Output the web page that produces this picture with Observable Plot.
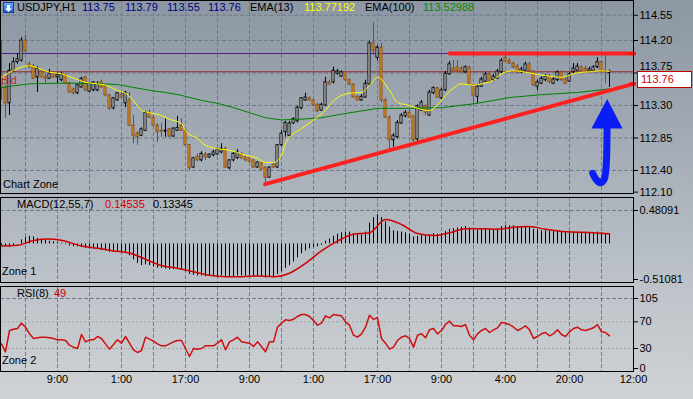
<!DOCTYPE html>
<html><head><meta charset="utf-8">
<script src="https://cdn.jsdelivr.net/npm/d3@7"></script>
<script src="https://cdn.jsdelivr.net/npm/@observablehq/plot@0.6"></script>
<style>
body{margin:0;}
#wrap{position:relative;width:693px;height:399px;overflow:hidden;background:linear-gradient(to bottom,#8c97a3 0%,#a6aeb7 40%,#bcc2c8 70%,#cfd2d6 100%);font-family:"Liberation Sans",Arial,sans-serif;font-size:11px;}
.t{position:absolute;white-space:nowrap;line-height:11px;}
#wrap svg{position:absolute;left:0;overflow:visible;}
</style></head><body><div id="wrap"></div>
<script>
// ---- price data (H1 candles, bar index 0..152) ----
const O = [
113.72,113.54,113.33,113.78,113.90,113.92,114.20,113.87,113.84,113.69,
113.77,113.70,113.67,113.73,113.69,113.65,113.72,113.60,113.52,113.47,
113.55,113.69,113.49,113.51,113.51,113.62,113.56,113.44,113.26,113.37,
113.45,113.33,113.37,113.02,112.91,112.88,112.95,113.20,113.13,113.02,
112.95,112.94,112.97,112.87,112.95,113.02,112.95,112.75,112.44,112.59,
112.54,112.62,112.58,112.61,112.62,112.65,112.70,112.43,112.54,112.57,
112.63,112.58,112.57,112.54,112.44,112.50,112.44,112.30,112.48,112.44,
112.75,112.93,112.88,113.05,113.08,113.26,113.37,113.40,113.37,113.31,
113.23,113.30,113.62,113.62,113.74,113.70,113.76,113.65,113.59,113.42,
113.37,113.41,113.59,114.16,113.96,114.10,113.37,113.13,112.82,112.86,
113.05,113.15,113.20,113.15,112.83,113.23,113.29,113.16,113.47,113.54,
113.40,113.51,113.73,113.81,113.83,113.81,113.76,113.83,113.58,113.42,
113.56,113.63,113.73,113.65,113.67,113.76,113.96,113.92,113.88,113.84,
113.76,113.78,113.87,113.77,113.56,113.60,113.65,113.70,113.60,113.65,
113.76,113.66,113.63,113.76,113.78,113.83,113.81,113.77,113.77,113.83,
113.90,113.78,113.75];
const H = [
114.20,113.58,113.88,113.96,114.02,114.24,114.27,113.90,113.87,113.84,
113.78,113.73,113.80,113.74,113.76,113.76,113.74,113.62,113.54,113.59,
113.69,113.70,113.62,113.63,113.63,113.65,113.58,113.45,113.41,113.48,
113.48,113.49,113.48,113.16,112.94,112.99,113.22,113.24,113.16,113.05,
113.05,113.11,112.98,112.99,113.15,113.12,112.97,112.76,112.57,112.63,
112.66,112.65,112.63,112.68,112.70,112.77,112.72,112.55,112.65,112.69,
112.65,112.59,112.58,112.55,112.52,112.51,112.45,112.45,112.50,112.76,
112.95,113.08,113.08,113.13,113.29,113.41,113.47,113.42,113.38,113.33,
113.33,113.69,113.65,113.83,113.80,113.78,113.77,113.67,113.60,113.44,
113.45,113.65,114.19,114.45,114.13,114.16,113.40,113.16,112.91,113.09,
113.19,113.23,113.23,113.16,113.31,113.37,113.31,113.51,113.56,113.55,
113.54,113.77,113.91,113.92,113.92,113.84,113.85,113.84,113.59,113.59,
113.69,113.76,113.76,113.73,113.80,113.95,114.00,113.95,113.90,113.87,
113.83,113.90,113.90,113.78,113.65,113.70,113.73,113.73,113.69,113.78,
113.78,113.69,113.76,113.88,113.88,113.85,113.85,113.83,113.85,113.96,
113.92,113.99,113.79];
const L = [
113.37,113.12,113.16,113.76,113.87,113.90,114.03,113.81,113.66,113.48,
113.68,113.60,113.66,113.67,113.60,113.63,113.59,113.47,113.44,113.45,
113.54,113.49,113.48,113.49,113.49,113.54,113.42,113.23,113.24,113.36,
113.40,113.27,113.01,112.77,112.75,112.87,112.94,113.12,113.01,112.79,
112.86,112.86,112.86,112.86,112.94,112.94,112.73,112.40,112.43,112.52,
112.52,112.54,112.57,112.59,112.61,112.63,112.43,112.41,112.52,112.55,
112.55,112.52,112.51,112.43,112.43,112.40,112.19,112.29,112.43,112.43,
112.73,112.86,112.87,113.04,113.06,113.24,113.36,113.36,113.29,113.20,
113.22,113.29,113.58,113.60,113.72,113.69,113.63,113.58,113.40,113.36,
113.36,113.40,113.58,113.99,113.92,113.34,113.12,112.68,112.72,112.84,
113.04,113.13,113.12,112.79,112.80,113.22,113.16,113.15,113.45,113.40,
113.38,113.49,113.72,113.76,113.77,113.74,113.74,113.58,113.34,113.33,
113.55,113.62,113.62,113.63,113.66,113.74,113.90,113.87,113.81,113.74,
113.74,113.77,113.77,113.56,113.51,113.59,113.63,113.60,113.59,113.63,
113.63,113.59,113.62,113.74,113.77,113.77,113.76,113.76,113.76,113.81,
113.77,113.60,113.55];
const C = [
113.54,113.33,113.78,113.90,113.94,114.20,114.05,113.83,113.67,113.81,
113.69,113.67,113.74,113.69,113.72,113.73,113.60,113.48,113.47,113.58,
113.67,113.51,113.60,113.62,113.60,113.55,113.44,113.26,113.40,113.47,
113.41,113.48,113.02,112.88,112.86,112.97,113.20,113.13,113.02,112.93,
112.94,112.95,112.87,112.98,112.99,112.95,112.75,112.43,112.57,112.54,
112.63,112.58,112.62,112.65,112.69,112.70,112.44,112.54,112.63,112.65,
112.57,112.54,112.52,112.44,112.51,112.41,112.30,112.44,112.44,112.75,
112.91,113.06,113.05,113.11,113.27,113.40,113.41,113.37,113.30,113.22,
113.31,113.62,113.59,113.78,113.77,113.76,113.65,113.59,113.41,113.37,
113.42,113.60,114.16,114.06,114.10,113.37,113.13,112.82,112.88,113.06,
113.16,113.20,113.13,112.82,113.29,113.34,113.20,113.48,113.54,113.41,
113.51,113.74,113.87,113.77,113.78,113.76,113.83,113.59,113.44,113.56,
113.66,113.73,113.63,113.70,113.77,113.92,113.91,113.88,113.83,113.76,
113.80,113.87,113.78,113.58,113.62,113.67,113.70,113.62,113.66,113.76,
113.65,113.60,113.73,113.81,113.84,113.78,113.77,113.80,113.83,113.90,
113.78,113.77,113.76];

// EMA lines (bar index, value)
const ema13Idx = [0,7,8,12,15,16,19,21,24,26,29,31,34,35,37,40,42,45,46,49,51,54,56,59,61,64,66,68,70,71,73,75,77,80,84,87,90,92,94,97,99,102,104,107,109,111,113,115,118,120,123,125,128,130,133,135,138,140,143,145,148,150,152];
const ema13Val = [113.69,113.85,113.84,113.76,113.74,113.72,113.66,113.62,113.60,113.58,113.51,113.47,113.30,113.23,113.20,113.16,113.11,113.05,112.95,112.84,112.75,112.70,112.69,112.65,112.61,112.57,112.51,112.51,112.61,112.77,112.91,112.98,113.06,113.18,113.41,113.47,113.48,113.58,113.69,113.51,113.34,113.30,113.26,113.23,113.31,113.44,113.54,113.60,113.58,113.60,113.65,113.74,113.78,113.77,113.74,113.72,113.70,113.69,113.74,113.76,113.77,113.78,113.77192];
const ema100Idx = [0,7,16,25,29,33,37,41,45,50,54,58,62,66,70,75,80,85,94,102,110,119,127,135,144,152];
const ema100Val = [113.55,113.60,113.61,113.60,113.59,113.55,113.51,113.48,113.44,113.37,113.33,113.27,113.20,113.13,113.10,113.11,113.13,113.18,113.26,113.26,113.27,113.33,113.41,113.45,113.48,113.52988];

// MACD(12,55,7) histogram per bar, and signal line
const macd = [
-0.03,-0.04,-0.05,-0.03,0.00,0.06,0.09,0.11,0.10,0.08,
0.06,0.05,0.04,0.03,0.02,0.01,-0.01,-0.03,-0.04,-0.04,
-0.05,-0.06,-0.07,-0.07,-0.08,-0.09,-0.10,-0.12,-0.12,-0.12,
-0.13,-0.13,-0.17,-0.23,-0.28,-0.31,-0.30,-0.31,-0.33,-0.35,
-0.35,-0.36,-0.37,-0.37,-0.37,-0.38,-0.40,-0.44,-0.45,-0.46,
-0.46,-0.47,-0.47,-0.47,-0.47,-0.46,-0.48,-0.48,-0.47,-0.46,
-0.46,-0.46,-0.46,-0.47,-0.47,-0.47,-0.49,-0.48,-0.47,-0.44,
-0.40,-0.35,-0.31,-0.26,-0.20,-0.14,-0.10,-0.07,-0.05,-0.04,
-0.02,0.04,0.07,0.11,0.14,0.16,0.17,0.17,0.15,0.13,
0.13,0.17,0.30,0.38,0.42,0.38,0.32,0.24,0.19,0.18,
0.17,0.16,0.14,0.10,0.11,0.12,0.11,0.13,0.15,0.14,
0.15,0.18,0.21,0.22,0.23,0.24,0.25,0.23,0.20,0.20,
0.21,0.22,0.21,0.21,0.22,0.25,0.26,0.26,0.26,0.25,
0.25,0.25,0.24,0.21,0.20,0.19,0.19,0.18,0.18,0.18,
0.17,0.16,0.16,0.17,0.17,0.16,0.16,0.16,0.16,0.17,
0.16,0.15,0.13345];
const sigIdx = [0,4,8,12,16,20,24,28,32,36,40,44,48,52,56,60,64,68,72,76,80,84,88,92,96,100,104,108,112,116,120,124,128,132,136,140,144,148,152];
const sigVal = [-0.03,-0.02,0.05,0.07,0.04,-0.03,-0.06,-0.10,-0.13,-0.22,-0.31,-0.35,-0.40,-0.45,-0.47,-0.47,-0.46,-0.47,-0.42,-0.28,-0.10,0.04,0.14,0.16,0.35,0.28,0.15,0.12,0.16,0.22,0.22,0.21,0.24,0.25,0.21,0.18,0.17,0.16,0.14535];

// RSI(8) per bar
const rsi = [
37,25,57,59,60,68,62,52,45,46,
47,47,46,45,43,43,42,35,32,30,
51,40,43,43,48,45,37,29,36,43,
38,48,38,28,24,27,47,44,41,37,
34,34,37,40,42,42,30,18,30,29,
30,34,34,34,38,43,28,40,43,47,
40,39,38,33,40,33,25,40,40,62,
68,73,72,74,78,81,81,78,72,65,
68,79,76,81,80,79,70,65,50,47,
52,62,80,74,76,45,38,29,32,42,
47,49,45,32,50,52,46,58,60,52,
57,66,71,64,64,63,66,50,43,52,
57,60,54,58,61,69,68,66,62,57,
60,64,58,45,48,52,54,49,52,58,
51,48,55,60,62,58,57,59,61,66,
55,54,49];

// axes / annotations
const priceTicks = [114.55,114.20,113.75,113.30,112.85,112.40,112.10];
const priceGrid = [114.55,114.20,113.75,113.30,112.85,112.40];
const bidCoveredTick = 113.75;
const macdTicks = [0.48091,-0.51081];
const rsiTicks = [105,70,30,0];
const rsiLevels = [70,30];
const timeIdx = [14,30,46,62,78,94,110,126,142,158];
const timeLabels = ["9:00","1:00","17:00","9:00","1:00","17:00","9:00","4:00","20:00","12:00"];
const gridIdx = [6,14,22,30,38,46,54,62,70,78,86,94,102,110,118,126,134,142,150];
const purpleLevel = 114.02;
const bidLevel = 113.767;
const resistIdx = [112.1,158.0], resistVal = [114.02,114.02];
const trendIdx = [65.9,158.0], trendVal = [112.21,113.60];
const arrowIdx = [151.4,151.1,150.6,149.6,148.6,147.8];
const arrowVal = [113.02,112.42,112.27,112.23,112.28,112.36];
const headIdx = [147.6,151.55,155.4], headBase = 112.974, headTip = [112.974,113.383,112.974];

const candles = O.map((o,i)=>({i,o,h:H[i],l:L[i],c:C[i],up:C[i]>=o}));
const ups = candles.filter(d=>d.up), downs = candles.filter(d=>!d.up);
const pts = (xs,ys)=>xs.map((x,k)=>({x,y:ys[k]}));

const wrap = document.getElementById("wrap");
const FONT = '"Liberation Sans", Arial, sans-serif';
const GRID = "#6f7c8b";
const style = {background:"transparent",fontFamily:FONT,fontSize:"11px",color:"black",overflow:"visible"};
const xS = {domain:[-0.25,158.0],axis:null};

function place(svg, top){ svg.style.top = top+"px"; wrap.appendChild(svg); }
function txt(s,x,y,color){const d=document.createElement("div");d.className="t";d.textContent=s;d.style.left=x+"px";d.style.top=y+"px";if(color)d.style.color=color;wrap.appendChild(d);return d;}

// "Bid" label fragment behind candles
txt("Bid",1,75,"#c42828");

// ---------- main price panel ----------
const main = Plot.plot({
  width:693,height:195,marginLeft:0,marginRight:60,marginTop:0,marginBottom:2,
  x:xS, y:{domain:[112.081,114.754],axis:null}, style,
  marks:[
    Plot.ruleY(priceGrid,{stroke:GRID,strokeDasharray:"4,2"}),
    Plot.ruleX(gridIdx,{stroke:GRID,strokeDasharray:"4,2"}),
    Plot.ruleY([purpleLevel],{stroke:"#4a2378"}),
    Plot.ruleY([bidLevel],{stroke:"#9b2a2a"}),
    Plot.ruleX(downs,{x:"i",y1:"l",y2:"h",stroke:"#8a4a14"}),
    Plot.ruleX(ups,{x:"i",y1:"l",y2:"h",stroke:"black"}),
    Plot.rect(downs,{x1:d=>d.i-0.25,x2:d=>d.i+0.25,y1:"o",y2:"c",fill:"#eea020",stroke:"#8a4a14"}),
    Plot.rect(ups,{x1:d=>d.i-0.25,x2:d=>d.i+0.25,y1:"o",y2:"c",fill:"white",stroke:"black"}),
    Plot.line(pts(ema100Idx,ema100Val),{x:"x",y:"y",stroke:"#008000",strokeWidth:1}),
    Plot.line(pts(ema13Idx,ema13Val),{x:"x",y:"y",stroke:"#ffff00",strokeWidth:1,curve:"monotone-x"}),
    Plot.line(pts(resistIdx,resistVal),{x:"x",y:"y",stroke:"#ff2020",strokeWidth:4}),
    Plot.line(pts(trendIdx,trendVal),{x:"x",y:"y",stroke:"#ff2020",strokeWidth:4}),
    Plot.ruleY([114.02,113.60],{x1:157.25,x2:158.75,stroke:"#ff1010",strokeWidth:3}),
    Plot.areaY(headIdx.map((x,k)=>({x,y1:headBase,y2:headTip[k]})),{x:"x",y1:"y1",y2:"y2",fill:"#0b1df5"}),
    Plot.line(pts(arrowIdx,arrowVal),{x:"x",y:"y",stroke:"#0b1df5",strokeWidth:7,strokeLinecap:"round",strokeLinejoin:"round",curve:"catmull-rom"}),
    Plot.axisY(priceTicks,{anchor:"right",label:null,tickFormat:d=>d===bidCoveredTick?"":d.toFixed(2),tickSize:4,tickPadding:2,fontSize:11}),
    Plot.text([bidCoveredTick],{y:d=>d,frameAnchor:"right",dx:6,dy:-7,textAnchor:"start",text:d=>d.toFixed(2),fontSize:11,fill:"black"}),
    Plot.frame({stroke:"black"})
  ]
});
place(main,0);

// ---------- MACD panel ----------
const macdPlot = Plot.plot({
  width:693,height:87,marginLeft:0,marginRight:60,marginTop:1,marginBottom:1,
  x:xS, y:{domain:[-0.5539,0.6678],axis:null}, style,
  marks:[
    Plot.ruleY([0.48091],{stroke:GRID,strokeDasharray:"4,2"}),
    Plot.ruleX(gridIdx,{stroke:GRID,strokeDasharray:"4,2"}),
    Plot.ruleX(macd.map((v,i)=>({i,v})),{x:"i",y1:0,y2:"v",stroke:"black"}),
    Plot.line(pts(sigIdx,sigVal),{x:"x",y:"y",stroke:"#d00000",curve:"monotone-x"}),
    Plot.axisY(macdTicks,{anchor:"right",label:null,tickFormat:d=>d.toFixed(5),tickSize:4,tickPadding:2,fontSize:11}),
    Plot.frame({stroke:"black"})
  ]
});
place(macdPlot,196);

// ---------- RSI panel ----------
const rsiPlot = Plot.plot({
  width:693,height:114,marginLeft:0,marginRight:60,marginTop:1,marginBottom:28,
  x:xS, y:{domain:[-4.5,123],axis:null}, style,
  marks:[
    Plot.ruleY([105],{stroke:GRID,strokeDasharray:"4,2"}),
    Plot.ruleY(rsiLevels,{stroke:"#a9a49c",strokeDasharray:"2,2"}),
    Plot.ruleX(gridIdx,{stroke:GRID,strokeDasharray:"4,2"}),
    Plot.line(rsi.map((v,i)=>({i,v})),{x:"i",y:"v",stroke:"#cc1010"}),
    Plot.axisY(rsiTicks,{anchor:"right",label:null,tickSize:4,tickPadding:2,fontSize:11}),
    Plot.text(timeIdx.map((d,k)=>({i:d,s:timeLabels[k]})),{x:"i",text:"s",frameAnchor:"bottom",dy:11,fontSize:11,fill:"black"}),
    Plot.frame({stroke:"black"})
  ]
});
place(rsiPlot,285);

// ---------- texts ----------
const icon = document.createElement("div");
icon.style.cssText="position:absolute;left:3px;top:2px;width:11px;height:11px;background:linear-gradient(#6fb0ff,#1a5fd0);border:1px solid #1a3f90;box-sizing:border-box;";
icon.innerHTML='<svg width="9" height="9" style="position:static"><path d="M4.5 8 L1 4.5 H3 V1 H6 V4.5 H8 Z" fill="white"/></svg>';
wrap.appendChild(icon);
txt("USDJPY,H1",17,2);
[["113.75",82],["113.79",125],["113.55",167],["113.76",208]].forEach(([s,x])=>txt(s,x,2,"#000080"));
txt("EMA(13)",250,2); txt("113.77192",304,2,"#ffff00");
txt("EMA(100)",365,2); txt("113.52988",423,2,"#008a00");
txt("Chart Zone",3,179);
txt("MACD(12,55,7)",17,199); txt("0.14535",105,199,"#cc0000"); txt("0.13345",153,199);
txt("Zone 1",2,266);
txt("RSI(8)",17,288); txt("49",54,288,"#cc0000");
txt("Zone 2",2,355);
const box = txt("113.76",637,71,"#cc0000");
box.style.cssText += "width:53px;height:15px;border:1px solid #c00000;background:white;padding:0;line-height:15px;text-indent:3px;";
</script></body></html>
